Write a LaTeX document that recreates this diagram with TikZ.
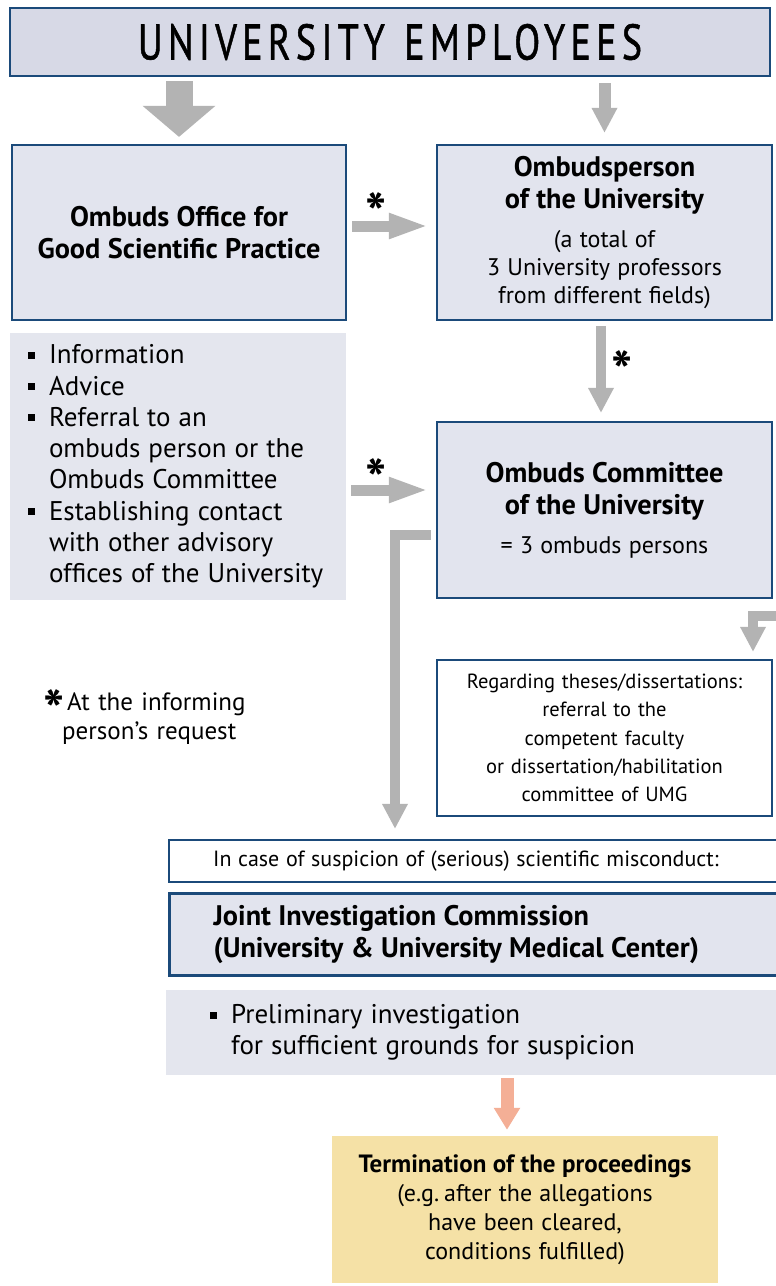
\documentclass[tikz,border=0pt]{standalone}
\usepackage{fontspec}
\setmainfont{PT Sans}[WordSpace=1.25]
\usetikzlibrary{arrows.meta}
\setlength{\parindent}{0pt}

\definecolor{edgeblue}{HTML}{1B4A7A}
\definecolor{headfill}{HTML}{D7D9E6}
\definecolor{boxfill}{HTML}{E2E4EE}
\definecolor{listfill}{HTML}{E4E6EE}
\definecolor{arrowgray}{HTML}{B3B3B3}
\definecolor{salmon}{HTML}{F4AF96}
\definecolor{sand}{HTML}{F5E1A6}

\newcommand{\wsp}{\spaceskip=0.3em\relax}
\newcommand{\bfsize}{\bfseries\fontsize{28.3}{32}\selectfont\spaceskip=0.26em\relax}
\newcommand{\bodysize}{\fontsize{27}{31.3}\selectfont\wsp}
\newcommand{\smsize}{\fontsize{24}{27.8}\selectfont\wsp}
\newcommand{\thsize}{\fontsize{20.5}{28.2}\selectfont}
\newcommand{\bul}{\makebox[21pt][l]{\raisebox{5pt}{\rule{7pt}{7pt}}}}
\newcommand{\ind}{\hspace*{21pt}}

\begin{document}
\begin{tikzpicture}[x=1pt,y=-1pt,
	box/.style={draw=edgeblue, line width=2.2pt, fill=boxfill, inner sep=0pt, align=center},
	flat/.style={fill=listfill, inner sep=0pt, align=left},
	star/.style={font=\bfseries\fontsize{56}{56}\selectfont, inner sep=0pt, anchor=north},
	arr/.style={draw=arrowgray, line width=10pt, -{Triangle[width=24pt,length=25pt]}},
	sidearr/.style={draw=arrowgray, line width=11pt, -{Triangle[width=23pt,length=40pt]}},
	bigarr/.style={draw=arrowgray, line width=27pt, -{Triangle[width=71pt,length=31pt]}}]
	\useasboundingbox[fill=white] (0,0) rectangle (776,1286);

	\node[box, fill=headfill, minimum width=760pt, minimum height=68pt] (staff) at (390,42)
		{\scalebox{0.76}[1]{\fontsize{50}{50}\selectfont\addfontfeatures{LetterSpace=14,FakeBold=1.2}UNIVERSITY EMPLOYEES}};
	\node[box, minimum width=334pt, minimum height=175pt, text width=330pt] (office) at (179,232.5)
		{\bfsize Ombuds Office for\\Good Scientific Practice\par};
	\node[box, minimum width=335pt, minimum height=175pt, text width=330pt] (person) at (604.5,232.5)
		{{\bfsize Ombudsperson\\of the University\par}\vspace{11pt}
		 {\smsize (a total of\\3 University professors\\from different fields)\par}};
	\node[flat, minimum width=336pt, minimum height=267pt, text width=300pt, inner xsep=18pt] (list) at (178,466.5)
		{\bodysize\bul Information\\\bul Advice\\\bul Referral to an\\\ind ombuds person or the\\\ind Ombuds Committee\\
		 \bul Establishing contact\\\ind with other advisory\\\ind offices of the University\par};
	\node[box, minimum width=335pt, minimum height=176pt, text width=330pt] (comm) at (604.5,510)
		{{\bfsize Ombuds Committee\\of the University\par}\vspace{11pt}
		 {\smsize = 3 ombuds persons\par}};
	\node[box, fill=white, minimum width=335pt, minimum height=156pt, font=\thsize] (theses) at (604.5,738)
		{Regarding theses/dissertations:\\referral to the\\competent faculty\\or dissertation/habilitation\\committee of UMG};

	\node[star, anchor=north west] (ast) at (43,689) {*};
	\node[anchor=north west, inner sep=0pt, align=left, font=\fontsize{25}{29}\selectfont] (note) at (67,693)
		{At the informing\\\hspace*{-5pt}person’s request};

	\node[box, fill=white, anchor=west, minimum width=622pt, minimum height=42pt, text width=534pt, inner xsep=44pt, align=left] (susp) at (168,861)
		{\fontsize{22}{26}\selectfont\wsp In case of suspicion of (serious) scientific misconduct:\par};
	\node[box, anchor=west, line width=3pt, minimum width=622pt, minimum height=82pt, text width=534pt, inner xsep=44pt, align=left] (joint) at (168,934)
		{\bfsize Joint Investigation Commission\\(University \& University Medical Center)\par};
	\node[flat, anchor=west, minimum width=624pt, minimum height=85pt, text width=536pt, inner xsep=44pt] (prelim) at (166,1032.5)
		{\bodysize\bul Preliminary investigation\\\ind for sufficient grounds for suspicion\par};
	\node[fill=sand, inner sep=0pt, align=center, minimum width=386pt, minimum height=147pt, text width=380pt] (term) at (525,1209.5)
		{{\bfseries\fontsize{25}{29}\selectfont\spaceskip=0.26em\relax Termination of the proceedings\par}
		 {\fontsize{24}{29}\selectfont\wsp (e.g. after the allegations\\have been cleared,\\conditions fulfilled)\par}};

	\draw[bigarr, shorten <=4pt, shorten >=7pt] (staff.south -| office.north) -- (office.north);
	\draw[arr, line width=12pt, shorten <=6pt, shorten >=11pt] (staff.south -| person.north) -- (person.north);
	\draw[sidearr, shorten <=5pt, shorten >=7pt] ([yshift=6.5pt]office.east) -- ([yshift=6.5pt]person.west);
	\draw[arr, shorten <=5pt, shorten >=8pt] ([xshift=-3.5pt]person.south) -- ([xshift=-3.5pt]comm.north);
	\draw[sidearr, shorten <=5pt, shorten >=7pt] ([yshift=20pt]comm.west -| list.east) -- ([yshift=20pt]comm.west);
	\draw[arr, shorten <=5pt, shorten >=10pt] ([yshift=-25pt]comm.west) -| ([xshift=227pt]susp.north west);
	\coordinate (cut) at (790,616);
	\draw[arr, shorten >=7pt] (cut) -| ([xshift=148.5pt]theses.north);
	\draw[arr, draw=salmon, line width=13pt, -{Triangle[width=25pt,length=22pt]}, shorten <=3pt, shorten >=6pt]
		([xshift=-18pt]term.north |- prelim.south) -- ([xshift=-18pt]term.north);

	\node[star] (s1) at (376,192) {*};
	\node[star] (s2) at (376,458) {*};
	\node[star] (s3) at (622,350) {*};
\end{tikzpicture}
\end{document}
